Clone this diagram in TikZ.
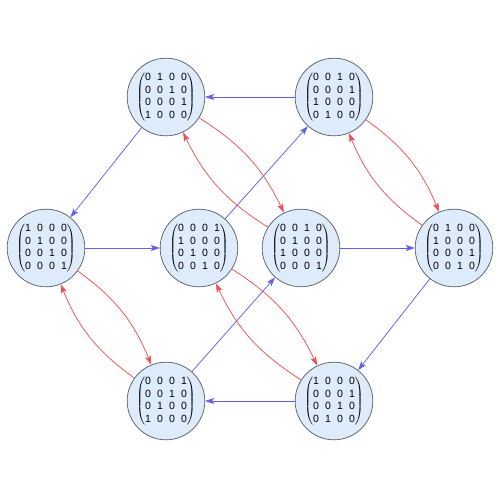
\documentclass[tikz,border=0pt]{standalone}
\usepackage{fontspec}
\setmainfont{Liberation Sans}
\usetikzlibrary{arrows.meta}
\definecolor{nodefill}{RGB}{221,235,250}
\definecolor{nodedraw}{RGB}{85,90,100}
\definecolor{eblue}{RGB}{95,95,235}
\definecolor{ered}{RGB}{238,80,85}
\newcommand{\permmat}[4]{$\left(\vcenter{\hbox{\renewcommand{\arraystretch}{1.0}\setlength{\tabcolsep}{3.1pt}\begin{tabular}{@{}cccc@{}}#1\\#2\\#3\\#4\end{tabular}}}\right)$}
\tikzset{
  state/.style={circle, draw=nodedraw, line width=0.7pt, fill=nodefill, minimum size=72pt, inner sep=0pt, font=\fontsize{10.5}{12.5}\selectfont},
  bluearrow/.style={draw=eblue, line width=0.75pt, -{Stealth[length=9pt,width=6pt,inset=2pt]}, fill=none},
  redarrow/.style={draw=ered, line width=0.75pt, -{Stealth[length=9pt,width=6pt,inset=2pt]}, bend left=16},
}
\begin{document}
\begin{tikzpicture}[x=1pt,y=1pt]
\useasboundingbox (0,0) rectangle (500,489);
\node[state] (TL) at (166,392) {\permmat{0&1&0&0}{0&0&1&0}{0&0&0&1}{1&0&0&0}};
\node[state] (TR) at (334,392) {\permmat{0&0&1&0}{0&0&0&1}{1&0&0&0}{0&1&0&0}};
\node[state] (L) at (46,241) {\permmat{1&0&0&0}{0&1&0&0}{0&0&1&0}{0&0&0&1}};
\node[state] (CA) at (199,241) {\permmat{0&0&0&1}{1&0&0&0}{0&1&0&0}{0&0&1&0}};
\node[state] (CB) at (301,241) {\permmat{0&0&1&0}{0&1&0&0}{1&0&0&0}{0&0&0&1}};
\node[state] (R) at (454,241) {\permmat{0&1&0&0}{1&0&0&0}{0&0&0&1}{0&0&1&0}};
\node[state] (BL) at (166,88) {\permmat{0&0&0&1}{0&0&1&0}{0&1&0&0}{1&0&0&0}};
\node[state] (BR) at (334,88) {\permmat{1&0&0&0}{0&0&0&1}{0&0&1&0}{0&1&0&0}};
% blue
\draw[bluearrow] (TR) -- (TL);
\draw[bluearrow] (TL) -- (L);
\draw[bluearrow] (L) -- (CA);
\draw[bluearrow] (CA) -- (TR);
\draw[bluearrow] (CB) -- (R);
\draw[bluearrow] (R) -- (BR);
\draw[bluearrow] (BR) -- (BL);
\draw[bluearrow] (BL) -- (CB);
% red
\draw[redarrow] (TL) to (CB);
\draw[redarrow] (CB) to (TL);
\draw[redarrow] (TR) to (R);
\draw[redarrow] (R) to (TR);
\draw[redarrow] (L) to (BL);
\draw[redarrow] (BL) to (L);
\draw[redarrow] (CA) to (BR);
\draw[redarrow] (BR) to (CA);
\end{tikzpicture}
\end{document}
